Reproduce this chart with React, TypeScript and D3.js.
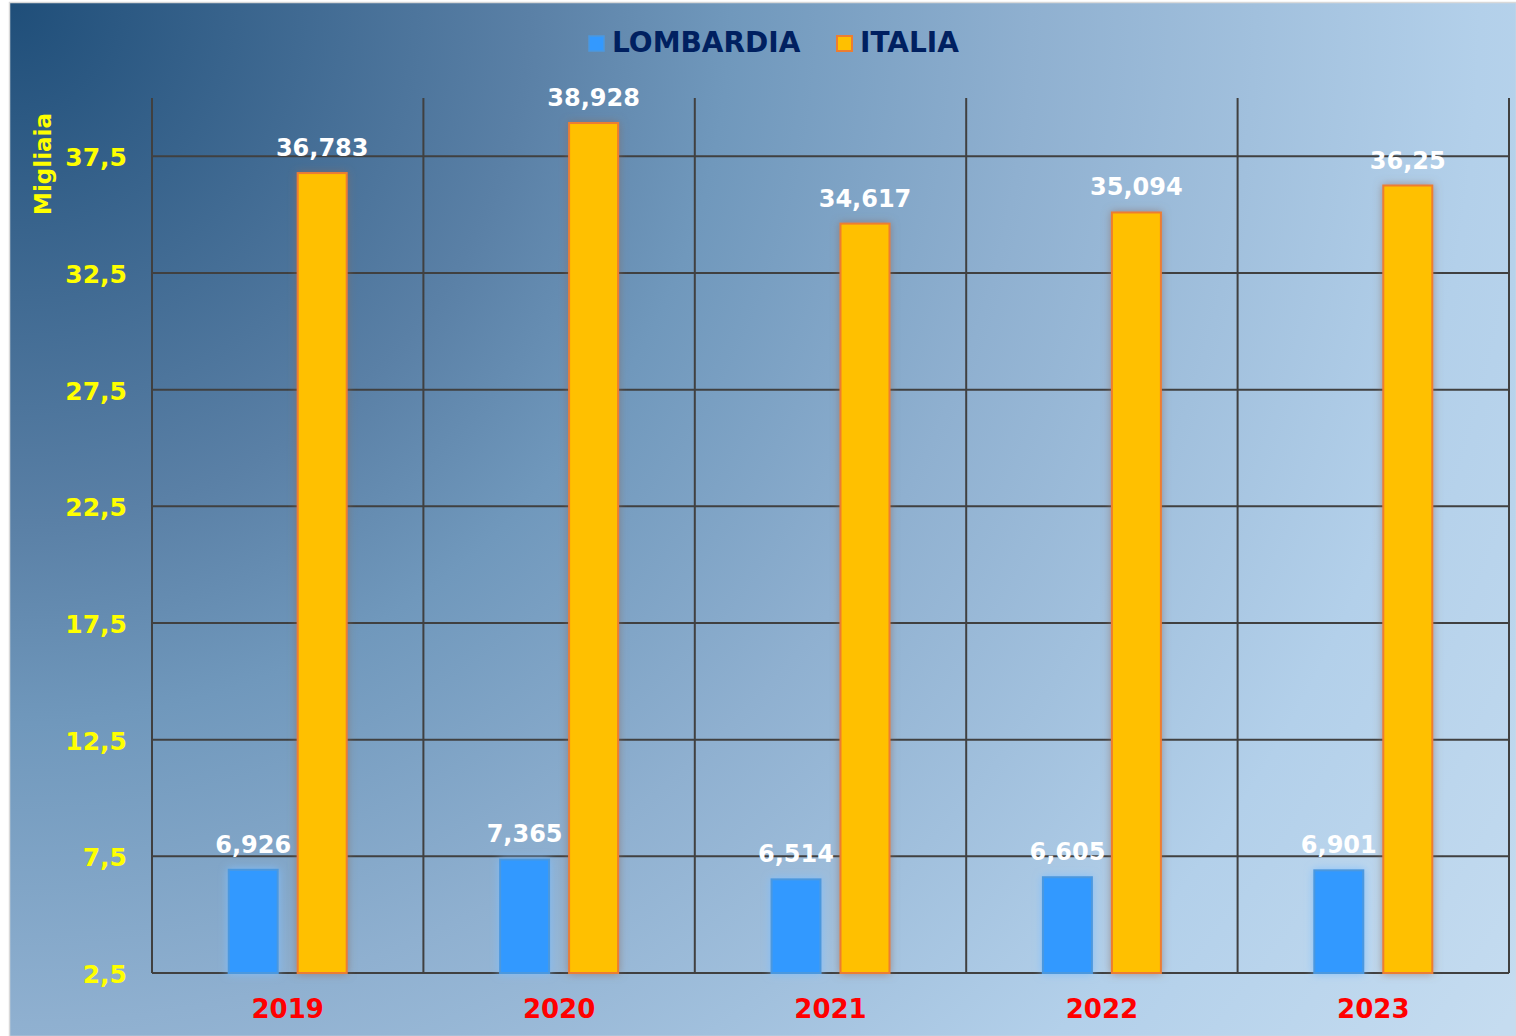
import React from "react";
import * as d3 from "d3";

const years = ["2019", "2020", "2021", "2022", "2023"];
const lombardia = [6.926, 7.365, 6.514, 6.605, 6.901];
const italia = [36.783, 38.928, 34.617, 35.094, 36.25];
const lombardiaLabels = ["6,926", "7,365", "6,514", "6,605", "6,901"];
const italiaLabels = ["36,783", "38,928", "34,617", "35,094", "36,25"];
const yTicks = [2.5, 7.5, 12.5, 17.5, 22.5, 27.5, 32.5, 37.5];
const seriesNames = ["LOMBARDIA", "ITALIA"];

const W = 1516;
const H = 1036;
const FONT = "'DejaVu Sans', Verdana, sans-serif";

export default function App() {
  const left = 152, right = 1509, top = 98, bottom = 973;
  const x = d3.scaleBand().domain(years).range([left, right]).padding(0);
  const y = d3.scaleLinear().domain([2.5, 40]).range([bottom, top]);
  const barW = 49;
  const off = 34.5;
  const fmt = (v: number) => v.toFixed(1).replace(".", ",");
  const bounds = years.map((yr) => x(yr)!).concat([right]);

  return (
    <svg width={W} height={H} style={{ position: "absolute", left: 0, top: 0 }}>
      <defs>
        <radialGradient id="bg" gradientUnits="userSpaceOnUse" cx={10} cy={3} r={1810} fx={10} fy={3}>
          <stop offset="0" stopColor="rgb(31,78,121)" />
          <stop offset="0.287" stopColor="rgb(90,128,166)" />
          <stop offset="0.398" stopColor="rgb(112,152,188)" />
          <stop offset="0.564" stopColor="rgb(143,176,208)" />
          <stop offset="0.812" stopColor="rgb(179,208,234)" />
          <stop offset="1" stopColor="rgb(197,220,240)" />
        </radialGradient>
        <filter id="glowBlue" x="-50%" y="-20%" width="200%" height="140%">
          <feGaussianBlur in="SourceAlpha" stdDeviation="4" result="b" />
          <feFlood floodColor="#7FBFFF" floodOpacity="0.9" />
          <feComposite in2="b" operator="in" result="g" />
          <feMerge>
            <feMergeNode in="g" />
            <feMergeNode in="SourceGraphic" />
          </feMerge>
        </filter>
        <filter id="glowOrange" x="-50%" y="-20%" width="200%" height="140%">
          <feGaussianBlur in="SourceAlpha" stdDeviation="4" result="b" />
          <feFlood floodColor="#8A6A5A" floodOpacity="0.6" />
          <feComposite in2="b" operator="in" result="g" />
          <feMerge>
            <feMergeNode in="g" />
            <feMergeNode in="SourceGraphic" />
          </feMerge>
        </filter>
      </defs>
      <rect x={0} y={0} width={W} height={H} fill="#ffffff" />
      <rect x={9.5} y={2.5} width={W - 9} height={H - 2} fill="url(#bg)" stroke="#d9d9d9" strokeWidth={1.5} />

      {yTicks.map((t) => (
        <line key={"h" + t} x1={left} x2={right} y1={y(t)} y2={y(t)} stroke="#404040" strokeWidth={2} />
      ))}
      {bounds.map((bx, i) => (
        <line key={"v" + i} x1={bx} x2={bx} y1={top} y2={bottom} stroke="#404040" strokeWidth={2} />
      ))}

      {yTicks.map((t) => (
        <text key={"t" + t} x={127} y={y(t) + 10} textAnchor="end" fill="#FFFF00"
          fontFamily={FONT} fontWeight="bold" fontSize={25}>{fmt(t)}</text>
      ))}
      <text transform={`translate(51,164) rotate(-90)`} textAnchor="middle" fill="#FFFF00"
        fontFamily={FONT} fontWeight="bold" fontSize={23}>Migliaia</text>

      {years.map((yr, i) => {
        const cx = x(yr)! + x.bandwidth() / 2;
        return (
          <g key={yr}>
            <rect x={cx - off - barW / 2} y={y(lombardia[i])} width={barW} height={bottom - y(lombardia[i])}
              fill="#3399FF" stroke="#4C98DE" strokeWidth={2} filter="url(#glowBlue)" />
            <rect x={cx + off - barW / 2} y={y(italia[i])} width={barW} height={bottom - y(italia[i])}
              fill="#FFC000" stroke="#ED7D31" strokeWidth={2} filter="url(#glowOrange)" />
            <text x={cx - off} y={y(lombardia[i]) - 17} textAnchor="middle" fill="#ffffff"
              fontFamily={FONT} fontWeight="bold" fontSize={24}>{lombardiaLabels[i]}</text>
            <text x={cx + off} y={y(italia[i]) - 17} textAnchor="middle" fill="#ffffff"
              fontFamily={FONT} fontWeight="bold" fontSize={24}>{italiaLabels[i]}</text>
            <text x={cx} y={1018} textAnchor="middle" fill="#FF0000"
              fontFamily={FONT} fontWeight="bold" fontSize={26}>{yr}</text>
          </g>
        );
      })}

      <rect x={589} y={36} width={15} height={15} fill="#3399FF" stroke="#4C98DE" strokeWidth={1.5} />
      <text x={612} y={52} fill="#002060" fontFamily={FONT} fontWeight="bold" fontSize={28}>{seriesNames[0]}</text>
      <rect x={837} y={36} width={15} height={15} fill="#FFC000" stroke="#ED7D31" strokeWidth={2} />
      <text x={860} y={52} fill="#002060" fontFamily={FONT} fontWeight="bold" fontSize={28}>{seriesNames[1]}</text>
    </svg>
  );
}
